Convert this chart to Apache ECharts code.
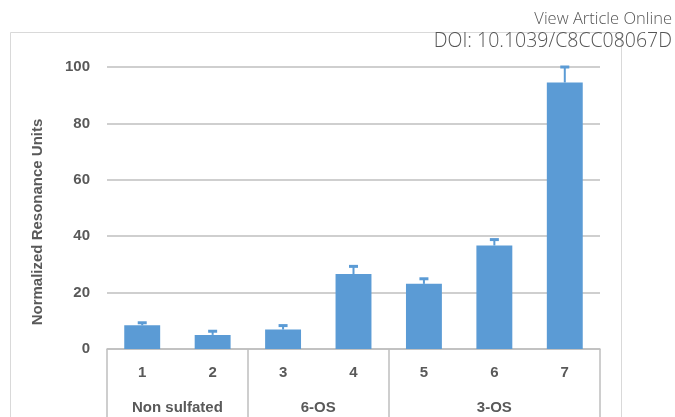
<!DOCTYPE html>
<html>
<head>
<meta charset="utf-8">
<script src="https://cdn.jsdelivr.net/npm/echarts@6/dist/echarts.min.js"></script>
<style>
  html, body { margin: 0; padding: 0; background: #fff; }
  #chart { width: 675px; height: 417px; }
</style>
</head>
<body>
<div id="chart"></div>
<script>
const categories = ['1', '2', '3', '4', '5', '6', '7'];
const values = [8.4, 5.0, 6.9, 26.6, 23.1, 36.7, 94.5];
const errors = [0.9, 1.3, 1.4, 2.7, 1.8, 2.1, 5.5];
const groupBounds = [0, 2, 4, 7];
const groupLabels = ['Non sulfated', '6-OS', '3-OS'];
const groupCenters = [1, 3, 5.5];
const yTicks = [0, 20, 40, 60, 80, 100];

const BLUE = '#5b9bd5';
const GRID = '#bfbfbf';
const LABEL = '#595959';
const FONT = '"Liberation Sans", Arial, sans-serif';

const chart = echarts.init(document.getElementById('chart'));

const option = {
  animation: false,
  backgroundColor: '#fff',
  graphic: [
    {
      type: 'rect',
      z: -10,
      shape: { x: 10.5, y: 32.5, width: 611, height: 400 },
      style: { fill: 'none', stroke: '#d9d9d9', lineWidth: 1 }
    },
    {
      type: 'text',
      x: 672,
      y: 19,
      style: {
        text: 'View Article Online', fill: '#555', textAlign: 'right', textVerticalAlign: 'middle',
        font: '300 16.5px "Open Sans", sans-serif'
      }
    },
    {
      type: 'text',
      x: 672,
      y: 41,
      style: {
        text: 'DOI: 10.1039/C8CC08067D', fill: '#555', textAlign: 'right', textVerticalAlign: 'middle',
        font: '300 19.5px "Open Sans", sans-serif'
      }
    },
    {
      type: 'text',
      x: 38,
      y: 222,
      rotation: Math.PI / 2,
      style: {
        text: 'Normalized Resonance Units', fill: LABEL, textAlign: 'center', textVerticalAlign: 'middle',
        font: 'bold 15px "Liberation Sans", Arial, sans-serif'
      }
    }
  ],
  grid: { left: 107, right: 75, top: 67, bottom: 68 },
  xAxis: [
    {
      type: 'category',
      data: categories,
      axisLine: { show: true, lineStyle: { color: GRID, width: 1.5 } },
      axisTick: { show: false },
      axisLabel: { margin: 16, color: LABEL, fontWeight: 'bold', fontSize: 15, fontFamily: FONT }
    },
    {
      type: 'value',
      position: 'bottom',
      min: 0,
      max: 7,
      axisLine: { show: false },
      splitLine: { show: false },
      axisTick: {
        show: true,
        customValues: groupBounds,
        length: 72,
        lineStyle: { color: GRID, width: 1.5 }
      },
      axisLabel: {
        customValues: groupCenters,
        margin: 51,
        color: LABEL,
        fontWeight: 'bold',
        fontSize: 15,
        fontFamily: FONT,
        formatter: (v) => groupLabels[groupCenters.indexOf(v)]
      }
    }
  ],
  yAxis: {
    type: 'value',
    min: 0,
    max: 100,
    interval: 20,
    axisLine: { show: false },
    axisTick: { show: false },
    axisLabel: {
      margin: 17,
      color: LABEL,
      fontWeight: 'bold',
      fontSize: 15,
      fontFamily: FONT,
      customValues: yTicks
    },
    splitLine: { lineStyle: { color: GRID, width: 1.5 } }
  },
  series: [
    {
      type: 'bar',
      data: values,
      barWidth: '51%',
      itemStyle: { color: BLUE },
      z: 2
    },
    {
      type: 'custom',
      z: 3,
      data: values.map((v, i) => [i, v, errors[i]]),
      renderItem: (params, api) => {
        const x = api.value(0);
        const y = api.value(1);
        const e = api.value(2);
        const p0 = api.coord([x, y]);
        const p1 = api.coord([x, y + e]);
        return {
          type: 'group',
          children: [
            {
              type: 'line',
              shape: { x1: p0[0], y1: p0[1], x2: p1[0], y2: p1[1] },
              style: { stroke: BLUE, lineWidth: 2 }
            },
            {
              type: 'line',
              shape: { x1: p1[0] - 4.5, y1: p1[1], x2: p1[0] + 4.5, y2: p1[1] },
              style: { stroke: BLUE, lineWidth: 3 }
            }
          ]
        };
      }
    }
  ]
};

chart.setOption(option);
</script>
</body>
</html>
